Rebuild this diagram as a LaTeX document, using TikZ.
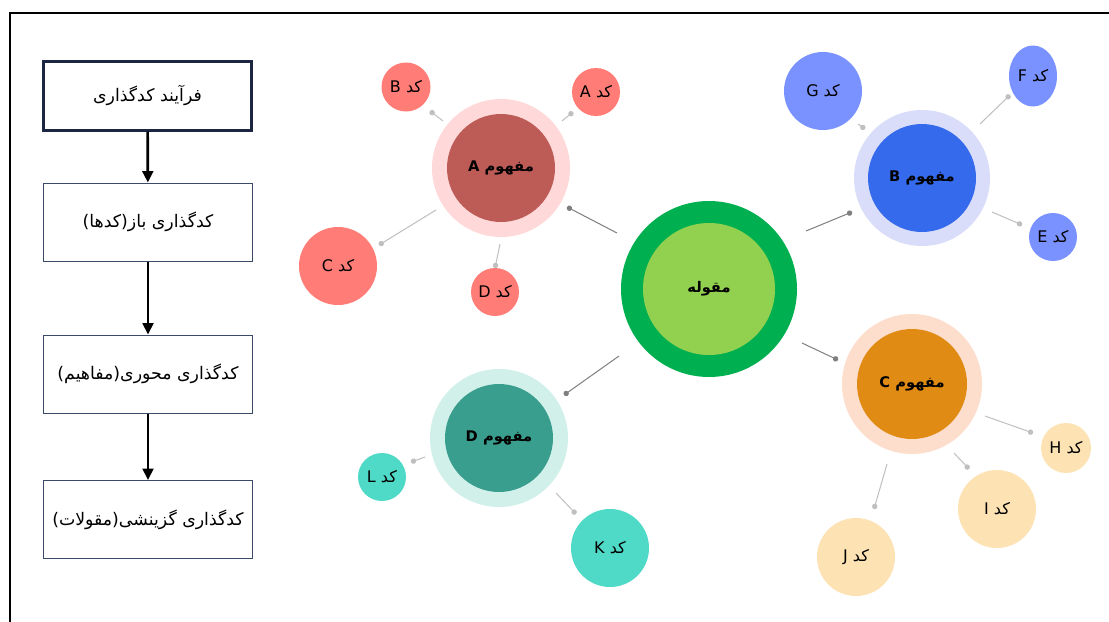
\documentclass[tikz,border=0pt]{standalone}
\usepackage{fontspec}
\setmainfont{DejaVu Sans}
\newfontfamily\ar[Script=Arabic]{DejaVu Sans}
\TeXXeTstate=1
\usetikzlibrary{arrows.meta,shapes.geometric}
\definecolor{navy}{HTML}{1C2541}
\definecolor{boxline}{HTML}{3B4A6B}
\definecolor{salmon}{HTML}{FF7C77}
\definecolor{Aout}{HTML}{FFD9D9}
\definecolor{Ain}{HTML}{BD5B57}
\definecolor{bluecode}{HTML}{7A92FF}
\definecolor{Bout}{HTML}{D9DDFA}
\definecolor{Bin}{HTML}{356AEC}
\definecolor{orangecode}{HTML}{FDE2B4}
\definecolor{Cout}{HTML}{FDDDCB}
\definecolor{Cin}{HTML}{E08B14}
\definecolor{tealcode}{HTML}{4FD9C7}
\definecolor{Dout}{HTML}{D1F0EA}
\definecolor{Din}{HTML}{3A9E8F}
\definecolor{catout}{HTML}{00B050}
\definecolor{catin}{HTML}{92D050}
\definecolor{lightlink}{HTML}{BFBFBF}
\definecolor{darklink}{HTML}{7F7F7F}
\begin{document}
\begin{tikzpicture}[x=0.75pt,y=-0.75pt,
  procbox/.style={draw=boxline, line width=0.75pt, fill=white, minimum width=156.5pt, minimum height=58.5pt, inner sep=0pt, font=\ar\fontsize{13}{15}\selectfont},
  flow/.style={line width=2pt, -{Triangle[width=8pt,length=8.5pt]}},
  circ/.style={circle, draw=none, inner sep=0pt, minimum size=#1*1.5pt},
  codecirc/.style={circ=#1, font=\ar\fontsize{12}{14}\selectfont},
  conc/.style={circ=54, font=\ar\bfseries\fontsize{11}{13}\selectfont},
  link/.style={draw=lightlink, line width=0.75pt, -{Circle[length=4pt]}},
  mainlink/.style={draw=darklink, line width=0.75pt, -{Circle[length=4pt]}}]
\useasboundingbox (0,0) rectangle (1109,621);
\fill[white] (0,0) rectangle (1109,621);
% frame
\draw[line width=1.5pt] (10,625) -- (10,13) -- (1113,13);

% process boxes
\node[procbox, draw=navy, line width=2.25pt, minimum height=51.75pt] (p1) at (147.5,95.5) {\beginR فرآیند کدگذاری\endR};
\node[procbox] (p2) at (148,222) {\beginR کدگذاری باز(کدها)\endR};
\node[procbox] (p3) at (148,374) {\beginR کدگذاری محوری(مفاهیم)\endR};
\node[procbox] (p4) at (148,519.5) {\beginR کدگذاری گزینشی(مقولات)\endR};
\draw[flow] (p1) -- (p2);
\draw[flow] (p2) -- (p3);
\draw[flow] (p3) -- (p4);

% category
\node[circ=88, fill=catout] (catring) at (709,289) {};
\node[circ=66, fill=catin, font=\ar\bfseries\fontsize{11}{13}\selectfont] (cat) at (709,289) {\beginR مقوله\endR};

% concept A
\node[circ=69, fill=Aout] (Aring) at (501,168) {};
\node[conc, fill=Ain] (A) at (501,168) {\beginR مفهوم A\endR};
\node[codecirc=24.5, fill=salmon] (cB) at (406,87) {\beginR کد B\endR};
\node[codecirc=24, fill=salmon] (cA) at (596,92) {\beginR کد A\endR};
\node[codecirc=39, fill=salmon] (cC) at (338,266) {\beginR کد C\endR};
\node[codecirc=24, fill=salmon] (cD) at (495,292) {\beginR کد D\endR};

% concept B
\node[circ=68, fill=Bout] (Bring) at (922,178) {};
\node[conc, fill=Bin] (B) at (922,178) {\beginR مفهوم B\endR};
\node[codecirc=39, fill=bluecode] (cG) at (823,91) {\beginR کد G\endR};
\node[ellipse, draw=none, inner sep=0pt, minimum width=36pt, minimum height=45.75pt, fill=bluecode, font=\ar\fontsize{12}{14}\selectfont] (cF) at (1033,76) {\beginR کد F\endR};
\node[codecirc=24, fill=bluecode] (cE) at (1053,237) {\beginR کد E\endR};

% concept C
\node[circ=70, fill=Cout] (Cring) at (912,384) {};
\node[conc, circ=55, fill=Cin] (C) at (912,384) {\beginR مفهوم C\endR};
\node[codecirc=25, fill=orangecode] (cH) at (1066,448) {\beginR کد H\endR};
\node[codecirc=39, fill=orangecode] (cI) at (997,509) {\beginR کد I\endR};
\node[codecirc=39, fill=orangecode] (cJ) at (856,557) {\beginR کد J\endR};

% concept D
\node[circ=69, fill=Dout] (Dring) at (499,438) {};
\node[conc, fill=Din] (D) at (499,438) {\beginR مفهوم D\endR};
\node[codecirc=24, fill=tealcode] (cL) at (382,477) {\beginR کد L\endR};
\node[codecirc=39, fill=tealcode] (cK) at (610,548) {\beginR کد K\endR};

% connector ends
\coordinate (ab1) at (443,121); \coordinate (ab2) at (430,111);
\coordinate (aa1) at (562,121); \coordinate (aa2) at (573,112);
\coordinate (ac1) at (436,210); \coordinate (ac2) at (379,245);
\coordinate (ad1) at (500,244); \coordinate (ad2) at (495,268);
\coordinate (xa1) at (617,233); \coordinate (xa2) at (567,207);
\coordinate (xb1) at (806,231); \coordinate (xb2) at (852,212);
\coordinate (bg1) at (858,124); \coordinate (bg2) at (865,129);
\coordinate (bf1) at (980,124); \coordinate (bf2) at (1010,95);
\coordinate (be1) at (992,212); \coordinate (be2) at (1022,225);
\coordinate (xc1) at (802,343); \coordinate (xc2) at (838,360);
\coordinate (ch1) at (985,416); \coordinate (ch2) at (1033,433);
\coordinate (ci1) at (954,453); \coordinate (ci2) at (969,469);
\coordinate (cj1) at (887,464); \coordinate (cj2) at (874,509);
\coordinate (xd1) at (619,356); \coordinate (xd2) at (564,395);
\coordinate (dl1) at (425,457); \coordinate (dl2) at (411,462);
\coordinate (dk1) at (556,493); \coordinate (dk2) at (576,514);

\draw[link] (ab1) -- (ab2);
\draw[link] (aa1) -- (aa2);
\draw[link] (ac1) -- (ac2);
\draw[link] (ad1) -- (ad2);
\draw[mainlink] (xa1) -- (xa2);
\draw[mainlink] (xb1) -- (xb2);
\draw[link] (bg1) -- (bg2);
\draw[link] (bf1) -- (bf2);
\draw[link] (be1) -- (be2);
\draw[mainlink] (xc1) -- (xc2);
\draw[link] (ch1) -- (ch2);
\draw[link] (ci1) -- (ci2);
\draw[link] (cj1) -- (cj2);
\draw[mainlink] (xd1) -- (xd2);
\draw[link] (dl1) -- (dl2);
\draw[link] (dk1) -- (dk2);
\end{tikzpicture}
\end{document}
